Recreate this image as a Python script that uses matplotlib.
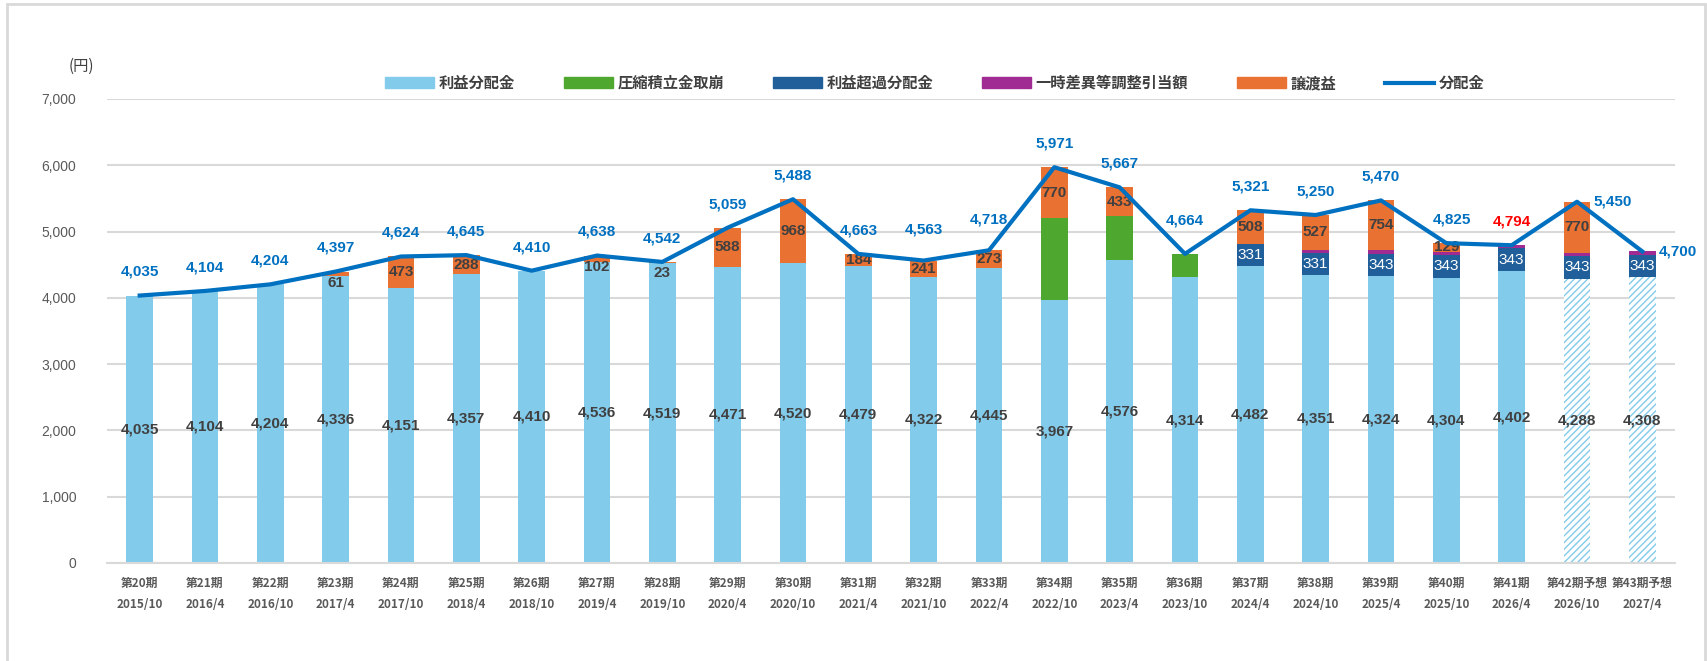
import matplotlib.pyplot as plt
import numpy as np
from matplotlib.patches import Rectangle

plt.rcParams['font.family'] = ['Noto Sans CJK JP', 'DejaVu Sans']

periods = ['第20期', '第21期', '第22期', '第23期', '第24期', '第25期', '第26期', '第27期',
           '第28期', '第29期', '第30期', '第31期', '第32期', '第33期', '第34期', '第35期',
           '第36期', '第37期', '第38期', '第39期', '第40期', '第41期', '第42期予想', '第43期予想']
dates = ['2015/10', '2016/4', '2016/10', '2017/4', '2017/10', '2018/4', '2018/10', '2019/4',
         '2019/10', '2020/4', '2020/10', '2021/4', '2021/10', '2022/4', '2022/10', '2023/4',
         '2023/10', '2024/4', '2024/10', '2025/4', '2025/10', '2026/4', '2026/10', '2027/4']

rieki = [4035, 4104, 4204, 4336, 4151, 4357, 4410, 4536, 4519, 4471, 4520, 4479, 4322, 4445,
         3967, 4576, 4314, 4482, 4351, 4324, 4304, 4402, 4288, 4308]
asshuku = [0, 0, 0, 0, 0, 0, 0, 0, 0, 0, 0, 0, 0, 0, 1234, 658, 350, 0, 0, 0, 0, 0, 0, 0]
choka = [0, 0, 0, 0, 0, 0, 0, 0, 0, 0, 0, 0, 0, 0, 0, 0, 0, 331, 331, 343, 343, 343, 343, 343]
ichiji = [0, 0, 0, 0, 0, 0, 0, 0, 0, 0, 0, 0, 0, 0, 0, 0, 0, 0, 41, 49, 49, 49, 49, 49]
joto = [0, 0, 0, 61, 473, 288, 0, 102, 23, 588, 968, 184, 241, 273, 770, 433, 0, 508, 527,
        754, 129, 0, 770, 0]
bunpai = [4035, 4104, 4204, 4397, 4624, 4645, 4410, 4638, 4542, 5059, 5488, 4663, 4563, 4718,
          5971, 5667, 4664, 5321, 5250, 5470, 4825, 4794, 5450, 4700]
forecast = [False] * 22 + [True, True]

c_rieki = '#83CBEB'
c_asshuku = '#4EA72E'
c_choka = '#215F9A'
c_ichiji = '#A02B93'
c_joto = '#E97132'
c_line = '#0070C0'
c_text = '#404040'
c_grid = '#D9D9D9'
num_font = ['Liberation Sans', 'DejaVu Sans']

fig = plt.figure(figsize=(17.07, 6.61), dpi=100)
ax = fig.add_axes([107 / 1707, 1 - 563 / 661, (1675 - 107) / 1707, (563 - 99) / 661])

x = np.arange(len(periods))
w = 0.41

for i in x:
    if forecast[i]:
        ax.bar(i, rieki[i], w, color='white', edgecolor=c_rieki, hatch='/////', linewidth=0)
    else:
        ax.bar(i, rieki[i], w, color=c_rieki)

bottom = np.array(rieki, dtype=float)
for vals, col in [(asshuku, c_asshuku), (choka, c_choka), (ichiji, c_ichiji), (joto, c_joto)]:
    ax.bar(x, vals, w, bottom=bottom, color=col)
    bottom = bottom + np.array(vals)

line, = ax.plot(x, bunpai, color=c_line, lw=3, zorder=5)

# bar labels
for i in x:
    ax.text(i, rieki[i] / 2, f'{rieki[i]:,}', ha='center', va='center', fontsize=11,
            fontweight='bold', color=c_text, family=num_font)
    if choka[i]:
        y = rieki[i] + asshuku[i] + choka[i] / 2
        ax.text(i, y, f'{choka[i]:,}', ha='center', va='center', fontsize=11,
                color='white', family=num_font)
    if joto[i]:
        top = rieki[i] + asshuku[i] + choka[i] + ichiji[i] + joto[i]
        y = top - joto[i] / 2
        if joto[i] < 120:
            y = top - 170
        ax.text(i, y, f'{joto[i]:,}', ha='center', va='center', fontsize=11,
                fontweight='bold', color=c_text, family=num_font)

# line labels
for i in x:
    col = 'red' if i == 21 else c_line
    if i >= 22:
        off, ha = (12, 0), 'left'
    else:
        dy = 17
        if i == 16:
            dy = 24
        elif i in (12, 13):
            dy = 22
        off, ha = (4 if i == 20 else 0, dy), 'center'
    ax.annotate(f'{bunpai[i]:,}', (i, bunpai[i]), xytext=off, textcoords='offset points',
                ha=ha, va='center', fontsize=11, fontweight='bold', color=col, family=num_font)

ax.set_xlim(-0.5, 23.5)
ax.set_ylim(0, 7000)
ax.set_yticks(range(0, 7001, 1000))
ax.set_yticklabels([f'{v:,}' for v in range(0, 7001, 1000)], fontsize=10, color='#595959',
                   family=num_font)
ax.set_xticks(x)
ax.set_xticklabels([f'{p}\n{d}' for p, d in zip(periods, dates)], fontsize=8.5,
                   fontweight='bold', color='#595959', linespacing=1.8)
ax.tick_params(length=0, pad=10)
ax.tick_params(axis='y', pad=22)
ax.grid(axis='y', color=c_grid, lw=1.5)
ax.set_axisbelow(True)
for s in ['top', 'right', 'left']:
    ax.spines[s].set_visible(False)
ax.spines['bottom'].set_color(c_grid)
ax.spines['bottom'].set_linewidth(1.5)

fig.text(81 / 1707, 1 - 66 / 661, '(円)', fontsize=11, color='#404040', ha='center', va='center')

handles = [Rectangle((0, 0), 1, 1, color=c) for c in [c_rieki, c_asshuku, c_choka, c_ichiji, c_joto]]
handles.append(line)
labels = ['利益分配金', '圧縮積立金取崩', '利益超過分配金', '一時差異等調整引当額', '譲渡益', '分配金']
ax.legend(handles, labels, ncol=6, loc='center', bbox_to_anchor=(935 / 1707, 1 - 83 / 661),
          bbox_transform=fig.transFigure, frameon=False,
          handlelength=3.2, handleheight=0.7, columnspacing=3.2, handletextpad=0.3,
          labelcolor='#404040', prop={'weight': 'bold', 'size': 11})

fig.patches.append(Rectangle((7 / 1707, -0.1), (1705 - 7) / 1707, 1.1 - 4 / 661, fill=False,
                             edgecolor=c_grid, lw=2, transform=fig.transFigure))

fig.savefig('out.png', dpi=100)
